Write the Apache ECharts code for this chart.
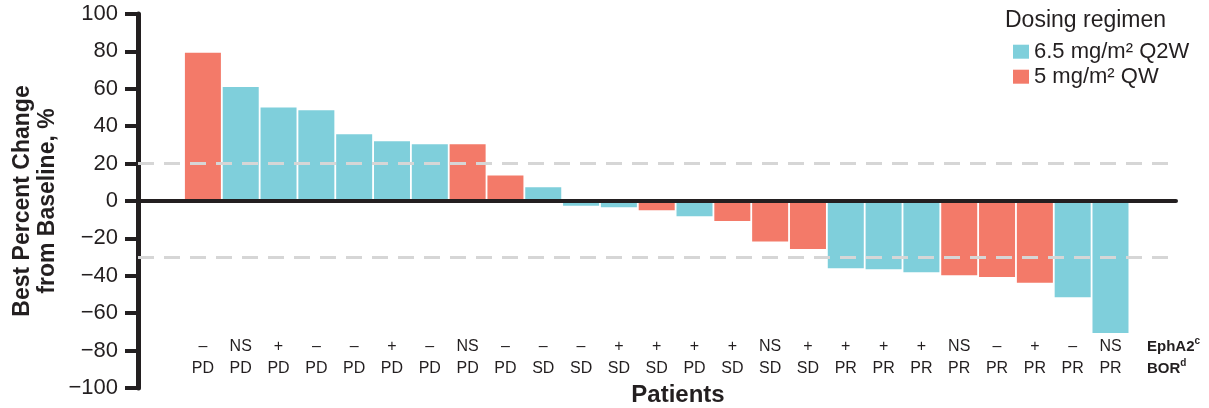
<!DOCTYPE html>
<html>
<head>
<meta charset="utf-8">
<script src="https://cdn.jsdelivr.net/npm/echarts@6/dist/echarts.min.js"></script>
<style>
  html, body { margin: 0; padding: 0; background: #ffffff; }
  #chart { width: 1209px; height: 408px; }
</style>
</head>
<body>
<div id="chart"></div>
<script>
// Patients ordered by best percent change from baseline
const patients = ['1','2','3','4','5','6','7','8','9','10','11','12','13','14','15','16','17','18','19','20','21','22','23','24','25'];

// EphA2 expression status per patient
const ephA2 = ['–','NS','+','–','–','+','–','NS','–','–','–','+','+','+','+','NS','+','+','+','+','NS','–','+','–','NS'];

// Best overall response per patient
const bor = ['PD','PD','PD','PD','PD','PD','PD','PD','PD','SD','SD','SD','SD','PD','SD','SD','SD','PR','PR','PR','PR','PR','PR','PR','PR'];

// Best percent change (%) for the 6.5 mg/m² Q2W regimen
const q2wChange = [null, 61, 50, 48.5, 35.7, 31.9, 30.3, null, null, 7.4, -2.5, -3.4, null, -8.1, null, null, null, -36, -36.5, -38.1, null, null, null, -51.5, -70.6];

// Best percent change (%) for the 5 mg/m² QW regimen
const qwChange = [79.3, null, null, null, null, null, null, 30.3, 13.7, null, null, null, -5, null, -10.7, -21.6, -25.7, null, null, null, -39.7, -40.6, -43.7, null, null];

// Response thresholds (dashed reference lines)
const thresholds = [20, -30];

const seriesNames = ['6.5 mg/m² Q2W', '5 mg/m² QW'];
const colors = ['#7fcfdb', '#f37a69'];
const ink = '#231f20';
const font = '"Liberation Sans", Arial, Helvetica, sans-serif';

const chart = echarts.init(document.getElementById('chart'), null, { renderer: 'canvas' });

const option = {
  animation: false,
  backgroundColor: '#ffffff',
  textStyle: { fontFamily: font, color: ink },
  grid: [
    // axis frame: y axis, zero line and thresholds
    { left: 138, right: 33, top: 14, bottom: 20 },
    // bars
    { left: 184, right: 79.6, top: 14, bottom: 20 }
  ],
  xAxis: [
    {
      gridIndex: 0, type: 'value', min: 0, max: 1, z: 5,
      axisLine: { show: true, onZero: true, lineStyle: { color: ink, width: 4 } },
      axisTick: { show: false }, axisLabel: { show: false }, splitLine: { show: false }
    },
    {
      gridIndex: 1, type: 'category', data: patients, offset: -58,
      axisLine: { show: false, onZero: false },
      axisTick: { show: false },
      splitLine: { show: false },
      axisLabel: {
        interval: 0, margin: 6,
        formatter: (v, i) => '{e|' + ephA2[i] + '}\n{b|' + bor[i] + '}',
        rich: {
          e: { fontSize: 16, lineHeight: 22, color: ink, fontFamily: font },
          b: { fontSize: 16, lineHeight: 22, color: ink, fontFamily: font }
        }
      }
    }
  ],
  yAxis: [
    {
      gridIndex: 0, type: 'value', min: -100, max: 100, interval: 20,
      name: 'Best Percent Change\nfrom Baseline, %',
      nameLocation: 'middle', nameGap: 78, nameMoveOverlap: false,
      nameTextStyle: { fontSize: 23, fontWeight: 'bold', lineHeight: 25, color: ink, fontFamily: font, align: 'center' },
      axisLine: { show: true, onZero: false, lineStyle: { color: ink, width: 5 } },
      axisTick: { show: true, length: 13, lineStyle: { color: ink, width: 4 } },
      axisLabel: {
        fontSize: 22, color: ink, margin: 20, fontFamily: font,
        formatter: v => String(v).replace('-', '−')
      },
      splitLine: { show: false }
    },
    {
      gridIndex: 1, type: 'value', min: -100, max: 100, show: false
    }
  ],
  legend: {
    data: seriesNames,
    orient: 'vertical',
    left: 1013, top: 40.7,
    padding: 0,
    itemWidth: 16, itemHeight: 14, itemGap: 3,
    icon: 'rect',
    textStyle: { fontSize: 22, color: ink, fontFamily: font, lineHeight: 22 }
  },
  graphic: [
    {
      type: 'text', left: 1005, top: 9,
      style: { text: 'Dosing regimen', fontSize: 23, fill: ink, fontFamily: font }
    },
    {
      type: 'text', x: 678, y: 395,
      style: { text: 'Patients', fontSize: 24, fontWeight: 'bold', fill: ink, fontFamily: font, align: 'center', verticalAlign: 'middle' }
    },
    {
      type: 'text', x: 1147, y: 336,
      style: {
        text: '{a|EphA2}{s|c}\n{a|BOR}{s|d}',
        fill: ink,
        rich: {
          a: { fontSize: 15, fontWeight: 'bold', lineHeight: 22, fill: ink, fontFamily: font },
          s: { fontSize: 10, fontWeight: 'bold', lineHeight: 12, verticalAlign: 'top', fill: ink, fontFamily: font }
        }
      }
    }
  ],
  series: [
    {
      // reference lines spanning the full axis frame
      type: 'line', xAxisIndex: 0, yAxisIndex: 0, data: [], z: 1, silent: true,
      markLine: {
        symbol: 'none', silent: true, animation: false,
        label: { show: false },
        lineStyle: { color: '#d6d6d6', width: 3, type: [16, 10] },
        data: thresholds.map(t => ({ yAxis: t }))
      }
    },
    {
      name: seriesNames[0], type: 'bar', xAxisIndex: 1, yAxisIndex: 1, z: 2,
      data: q2wChange, barWidth: 36, barGap: '-100%',
      itemStyle: { color: colors[0] }
    },
    {
      name: seriesNames[1], type: 'bar', xAxisIndex: 1, yAxisIndex: 1, z: 2,
      data: qwChange, barWidth: 36, barGap: '-100%',
      itemStyle: { color: colors[1] }
    }
  ]
};

chart.setOption(option);
</script>
</body>
</html>
